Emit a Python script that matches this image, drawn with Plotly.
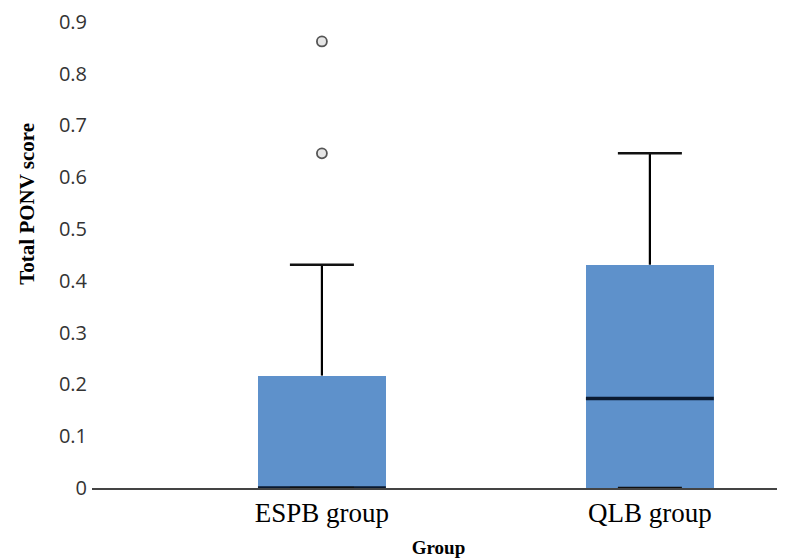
import plotly.graph_objects as go

# ---- data ----
groups = ["ESPB group", "QLB group"]
q1 = [0.0, 0.0]
medians = [0.0, 0.173]
q3 = [0.217, 0.431]
upper_fence = [0.431, 0.646]
lower_fence = [0.0, 0.0]
outlier_groups = ["ESPB group", "ESPB group"]
outlier_values = [0.646, 0.862]
y_ticks = [0, 0.1, 0.2, 0.3, 0.4, 0.5, 0.6, 0.7, 0.8, 0.9]
y_tick_labels = ["0", "0.1", "0.2", "0.3", "0.4", "0.5", "0.6", "0.7", "0.8", "0.9"]

BOX_COLOR = "#5E91CB"
BOX_WIDTH = 0.39

fig = go.Figure()

# interquartile boxes
fig.add_trace(go.Bar(
    x=groups, y=[b - a for a, b in zip(q1, q3)], base=q1,
    width=BOX_WIDTH, marker=dict(color=BOX_COLOR, line=dict(width=0)),
    showlegend=False, hoverinfo="skip"))

# medians: degenerate boxes (q1 = median = q3) give a line across the box width
fig.add_trace(go.Box(
    x=groups, q1=medians, median=medians, q3=medians,
    lowerfence=medians, upperfence=medians,
    width=BOX_WIDTH, fillcolor="rgba(0,0,0,0)",
    line=dict(color="#0B1A30", width=3.5),
    boxpoints=False, showlegend=False, hoverinfo="skip"))

# upper whisker stems (no caps)
fig.add_trace(go.Scatter(
    x=groups, y=q3, mode="markers",
    marker=dict(size=1, color="rgba(0,0,0,0)"),
    error_y=dict(type="data", symmetric=False,
                 array=[u - t for u, t in zip(upper_fence, q3)],
                 arrayminus=[0, 0], width=0, thickness=2.2, color="black"),
    showlegend=False, hoverinfo="skip"))

# whisker caps (upper and lower fences)
fig.add_trace(go.Scatter(
    x=groups + groups, y=upper_fence + lower_fence, mode="markers",
    marker=dict(size=1, color="rgba(0,0,0,0)"),
    error_y=dict(type="data", symmetric=True, array=[0, 0, 0, 0],
                 width=32, thickness=2.5, color="#111111"),
    showlegend=False, hoverinfo="skip"))

# outliers
fig.add_trace(go.Scatter(
    x=outlier_groups, y=outlier_values, mode="markers",
    marker=dict(symbol="circle", size=10, color="#E6E6E6",
                line=dict(color="#555555", width=1.8)),
    showlegend=False, hoverinfo="skip"))

fig.add_annotation(
    text="<b>Total PONV score</b>", textangle=-90,
    xref="paper", yref="paper", x=-0.095, y=0.6, xanchor="center", yanchor="middle",
    showarrow=False,
    font=dict(family="Liberation Serif", size=21, color="black"))

fig.update_layout(
    width=777, height=552,
    margin=dict(l=84, r=0, t=4, b=72),
    paper_bgcolor="white", plot_bgcolor="white",
    bargap=0, boxgap=0, boxmode="overlay",
    xaxis=dict(
        type="category", range=[-0.701, 1.412],
        showgrid=False, zeroline=False,
        showline=True, linecolor="#444444", linewidth=1.5,
        ticks="",
        tickfont=dict(family="Liberation Serif", size=27, color="black"),
        title=dict(text="<b>Group</b>", standoff=14,
                   font=dict(family="Liberation Serif", size=19, color="black")),
    ),
    yaxis=dict(
        range=[0, 0.915],
        tickvals=y_ticks, ticktext=y_tick_labels,
        showgrid=False, zeroline=False, showline=False, ticks="",
        tickfont=dict(family="Open Sans", size=20, color="#333333"),
        ticklabelstandoff=4, ticklabeloverflow="allow",
    ),
)

fig.write_html("out.html")
